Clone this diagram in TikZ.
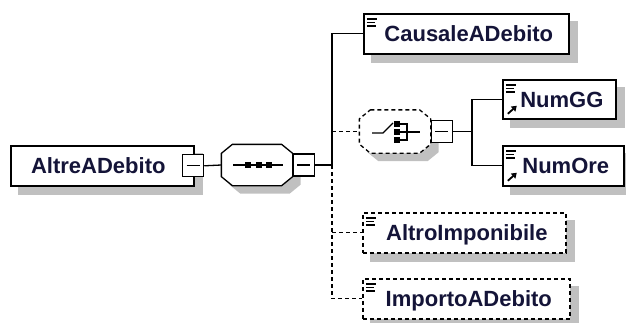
\documentclass[tikz,border=0pt]{standalone}
\usepackage{fontspec}
\newfontfamily\xsdfont{Liberation Sans}
\usetikzlibrary{arrows.meta, backgrounds}
\definecolor{shadowcol}{RGB}{192,192,192}
\definecolor{txtcol}{RGB}{20,20,56}

\begin{document}
\begin{tikzpicture}[x=1pt, y=-1pt, line width=1.3pt,
    every node/.style={inner sep=0pt},
    optline/.style={dash pattern=on 4pt off 3pt},
    elem/.style={draw, line width=1.6pt, fill=white, anchor=north west,
      minimum height=40pt, text=txtcol, text height=15.75pt, text depth=0pt,
      font=\xsdfont\bfseries\fontsize{22}{24}\selectfont},
    icon/.style={execute at begin node=\hspace{5pt},
      path picture={\foreach \dy/\len in {5/10,8.5/8,12/9}
        \draw[solid, line width=1.4pt] ([shift={(3pt,-\dy pt)}]path picture bounding box.north west) -- +(\len pt,0pt);}},
    refelem/.style={execute at begin node=\hspace{5pt},
      path picture={\foreach \dy/\len in {5/10,8.5/8,12/9}
        \draw[solid, line width=1.4pt] ([shift={(3pt,-\dy pt)}]path picture bounding box.north west) -- +(\len pt,0pt);
        \draw[solid, line width=1.8pt, -{Triangle[length=5pt, width=6.5pt]}]
          ([shift={(5pt,5pt)}]path picture bounding box.south west) -- +(9pt,8pt);}},
    octa/.style={minimum width=70pt, minimum height=40pt},
    octagon/.style 2 args={insert path={([shift={(11pt+#2,-#2)}]#1.north west) -- ([shift={(-11pt+#2,-#2)}]#1.north east)
      -- ([shift={(#2,-9pt-#2)}]#1.north east) -- ([shift={(#2,9pt-#2)}]#1.south east)
      -- ([shift={(-11pt+#2,-#2)}]#1.south east) -- ([shift={(11pt+#2,-#2)}]#1.south west)
      -- ([shift={(#2,9pt-#2)}]#1.south west) -- ([shift={(#2,-9pt-#2)}]#1.north west) -- cycle}},
    collapse/.style={draw, fill=white, minimum width=21pt, minimum height=22pt,
      path picture={\draw[solid, line width=1.2pt] ([xshift=4pt]path picture bounding box.west)
        -- ([xshift=-4pt]path picture bounding box.east);}}]
  \useasboundingbox (0,0) rectangle (626,322);

  % compositors: sequence and choice
  \node[octa] (seq) at (257,165) {};
  \node[octa, minimum height=42pt] (choice) at (395,131.5) {};
  \foreach \n/\st in {seq/solid, choice/optline} {
    \fill[shadowcol] [octagon={\n}{8pt}];
    \draw[\st, fill=white] [octagon={\n}{0pt}];
  }
  \begin{scope}[shift={(seq.center)}]
    \draw (-24,0) -- (26,0);
    \foreach \dx in {-9,1.5,12} \fill (\dx-3,-3) rectangle (\dx+3,3);
  \end{scope}
  \begin{scope}[shift={(choice.center)}]
    \draw (-23,1.5) -- (-12,1.5) -- (-2,-8.5);
    \foreach \dy in {-7.5,0.5,8.5} \fill (-1,\dy-2.8) rectangle (5,\dy+2.8);
    \draw (5,-7.5) -- (12,-7.5) -- (12,8.5) -- (5,8.5);
    \draw (5,0.5) -- (25,0.5);
  \end{scope}
  \node[collapse, anchor=west] (seqm) at (seq.east) {};
  \node[collapse, anchor=west] (choicem) at (choice.east) {};

  % elements
  \node[elem, minimum width=183pt, execute at end node=\hspace{8pt}] (alt) at (10,145) {AltreADebito};
  \node[collapse] (altm) at ([xshift=-1.5pt]alt.east) {};
  \node[elem, icon, minimum width=205pt] (caus) at (363,13) {CausaleADebito};
  \node[elem, refelem, minimum width=113pt, minimum height=39pt] (numgg) at (502,79) {NumGG};
  \node[elem, refelem, minimum width=121pt] (numore) at (502,145) {NumOre};
  \node[elem, icon, optline, minimum width=203pt] (altro) at (362,212) {AltroImponibile};
  \node[elem, icon, optline, minimum width=207pt] (imp) at (362,278) {ImportoADebito};
  \begin{scope}[on background layer]
    \foreach \n in {alt, caus, numgg, numore, altro, imp}
      \fill[shadowcol] ([shift={(8pt,-8pt)}]\n.north west) rectangle ([shift={(8pt,-8pt)}]\n.south east);
  \end{scope}

  % connectors
  \coordinate (bus) at (332,165);
  \coordinate (sub) at (472,131.5);
  \draw (altm.east) -- (seq.west);
  \draw (seqm.east) -- (bus);
  \draw (bus) |- (caus.west);
  \draw[optline] (bus) |- (imp.west);
  \draw[optline] (bus |- altro.west) -- (altro.west);
  \draw[optline] (bus |- choice.west) -- (choice.west);
  \draw (choicem.east) -- (sub);
  \draw (sub) |- (numgg.west);
  \draw (sub) |- (numore.west);
\end{tikzpicture}
\end{document}
